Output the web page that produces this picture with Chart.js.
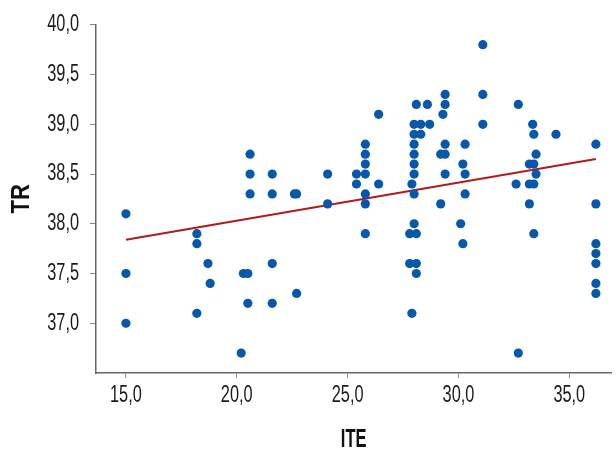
<!DOCTYPE html>
<html>
<head>
<meta charset="utf-8">
<script src="https://cdn.jsdelivr.net/npm/chart.js@4/dist/chart.umd.min.js"></script>
<style>
html,body{margin:0;padding:0;background:#fff;}
#wrap{width:616px;height:450px;position:relative;}
</style>
</head>
<body>
<div id="wrap"><canvas id="c" width="616" height="450"></canvas></div>
<script>
// ITE (x) and TR (y) values
const ite = [15.0,15.0,15.0,18.2,18.2,18.2,18.7,18.8,20.2,20.3,20.5,20.5,20.6,20.6,20.6,
  21.6,21.6,21.6,21.6,22.6,22.7,22.7,24.1,24.1,25.4,25.4,25.8,25.8,25.8,25.8,25.8,25.8,25.8,
  26.4,26.4,27.8,27.8,27.9,28.0,28.0,28.0,28.0,28.0,28.0,27.9,28.0,28.0,28.1,28.1,28.1,28.1,
  28.3,28.3,28.6,28.7,29.2,29.2,29.4,29.4,29.3,29.4,29.4,29.4,30.1,30.2,30.2,30.3,30.3,30.3,
  31.1,31.1,31.1,32.6,32.7,32.7,33.2,33.2,33.2,33.35,33.4,33.4,33.4,33.5,33.5,33.4,34.4,
  36.2,36.2,36.2,36.2,36.2,36.2,36.2];
const tr = [38.1,37.5,37.0,37.9,37.8,37.1,37.6,37.4,36.7,37.5,37.5,37.2,38.7,38.5,38.3,
  38.5,38.3,37.6,37.2,38.3,38.3,37.3,38.5,38.2,38.5,38.4,38.8,38.7,38.6,38.5,38.3,38.2,37.9,
  39.1,38.4,37.9,37.6,37.1,39.0,38.9,38.8,38.7,38.6,38.5,38.4,38.3,38.0,39.2,37.9,37.6,37.5,
  39.0,38.9,39.2,39.0,38.7,38.2,39.3,39.2,39.1,38.8,38.7,38.5,38.0,38.6,37.8,38.8,38.5,38.3,
  39.8,39.3,39.0,38.4,39.2,36.7,38.6,38.4,38.2,39.0,38.9,38.4,37.9,38.7,38.5,38.6,38.9,
  38.8,38.2,37.8,37.7,37.6,37.4,37.3];
// fitted line end points
const fitX = [15.0, 36.2];
const fitY = [37.84, 38.65];
// tick labels
const xTicks = [15, 20, 25, 30, 35];
const yTicks = [37.0, 37.5, 38.0, 38.5, 39.0, 39.5, 40.0];
const xTitle = 'ITE';
const yTitle = 'TR';

const pts = ite.map((x, i) => ({x: x, y: tr[i]}));
const fit = fitX.map((x, i) => ({x: x, y: fitY[i]}));
const fmt = v => Number(v).toFixed(1).replace('.', ',');
const FONT = '"Liberation Sans", Arial, sans-serif';

// draw the axis texts with a narrow (condensed) horizontal scale, like the original
function condense(scale, method, k) {
  const orig = scale[method];
  scale[method] = function () {
    const ctx = this.ctx;
    const ft = ctx.fillText;
    ctx.fillText = function (t, x, y, mw) {
      this.save();
      this.translate(x, y);
      this.scale(k, 1);
      ft.call(this, t, 0, 0);
      this.restore();
    };
    try { return orig.apply(this, arguments); }
    finally { ctx.fillText = ft; }
  };
}
function patch(s, kLabels, kTitle) {
  if (s.__patched) return;
  s.__patched = true;
  condense(s, 'drawLabels', kLabels);
  condense(s, 'drawTitle', kTitle);
}

new Chart(document.getElementById('c'), {
  type: 'scatter',
  data: {
    datasets: [
      {
        label: 'TR',
        data: pts,
        backgroundColor: '#0757ab',
        borderColor: '#0757ab',
        pointRadius: 4.6,
        pointHoverRadius: 4.6,
        borderWidth: 0,
        order: 0
      },
      {
        type: 'line',
        label: 'fit',
        data: fit,
        borderColor: '#b31b1b',
        borderWidth: 2,
        pointRadius: 0,
        fill: false,
        order: 1
      }
    ]
  },
  options: {
    responsive: false,
    animation: false,
    plugins: { legend: { display: false }, tooltip: { enabled: false } },
    layout: { padding: { left: 0, top: 20, right: 2, bottom: 0 } },
    scales: {
      x: {
        type: 'linear',
        min: 13.65,
        max: 36.9,
        afterBuildTicks: s => { s.ticks = xTicks.map(v => ({value: v})); },
        afterFit: s => { s.height = 77; patch(s, 0.71, 0.66); },
        grid: { drawOnChartArea: false, drawTicks: true, tickLength: 5, color: '#888', lineWidth: 1 },
        border: { display: true, color: '#666', width: 1.5 },
        ticks: { callback: v => fmt(v), color: '#1a1a1a', padding: 4, maxRotation: 0,
                 font: { family: FONT, size: 23 } },
        title: { display: true, text: xTitle, color: '#111',
                 font: { family: FONT, size: 25, weight: 'bold', lineHeight: 0.75 },
                 padding: { top: 0, bottom: 0.5 } }
      },
      y: {
        type: 'linear',
        min: 36.5,
        max: 40.0,
        afterBuildTicks: s => { s.ticks = yTicks.map(v => ({value: v})); },
        afterFit: s => { s.width = 96; patch(s, 0.71, 0.88); },
        grid: { drawOnChartArea: false, drawTicks: true, tickLength: 6, color: '#888', lineWidth: 1 },
        border: { display: true, color: '#666', width: 1.5 },
        ticks: { callback: v => fmt(v), color: '#1a1a1a', padding: 11,
                 font: { family: FONT, size: 23 } },
        title: { display: true, text: yTitle, color: '#111',
                 font: { family: FONT, size: 25, weight: 'bold', lineHeight: 1.2 },
                 padding: { top: 7, bottom: 0 } }
      }
    }
  }
});
</script>
</body>
</html>
